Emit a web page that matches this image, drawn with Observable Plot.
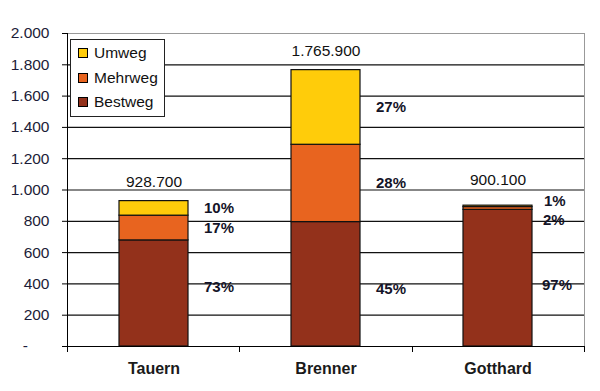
<!DOCTYPE html>
<html>
<head>
<meta charset="utf-8">
<script src="https://cdn.jsdelivr.net/npm/d3@7"></script>
<script src="https://cdn.jsdelivr.net/npm/@observablehq/plot@0.6"></script>
<style>
  html, body { margin: 0; padding: 0; background: #fff; }
  #wrap { position: relative; width: 600px; height: 391px; font-family: "Liberation Sans", Arial, sans-serif; }
  #legend { position: absolute; left: 70px; top: 39px; width: 95px; height: 78px; border: 1px solid #222; background: #fff; box-sizing: border-box; }
  .item { position: absolute; left: 7px; height: 20px; display: flex; align-items: center; font-size: 15.5px; color: #111; }
  .sw { width: 8px; height: 8px; border: 1px solid #000; margin-right: 6px; }
</style>
</head>
<body>
<div id="wrap"></div>
<script>
const categories = ["Tauern", "Brenner", "Gotthard"];
const series = ["Bestweg", "Mehrweg", "Umweg"];
const bestweg = [678, 795, 873];
const mehrweg = [158, 494, 18];
const umweg = [93, 477, 9];
const pctBestweg = ["73%", "45%", "97%"];
const pctMehrweg = ["17%", "28%", "2%"];
const pctUmweg = ["10%", "27%", "1%"];
const totals = [928700, 1765900, 900100];
const yTicks = [0, 200, 400, 600, 800, 1000, 1200, 1400, 1600, 1800, 2000];
const colors = ["#93311b", "#e8641f", "#ffcc0a"];

const values = [bestweg, mehrweg, umweg];
const pcts = [pctBestweg, pctMehrweg, pctUmweg];
const rows = [];
categories.forEach((c, i) => {
  series.forEach((s, j) => {
    rows.push({cat: c, series: s, value: values[j][i], label: pcts[j][i]});
  });
});
const totalRows = categories.map((c, i) => ({cat: c, total: totals[i], y: totals[i] / 1000}));

const loc = d3.formatLocale({decimal: ",", thousands: ".", grouping: [3], currency: ["", "€"]});
const fmt = loc.format(",");

const frameLines = (index, scales, vals, dims) => {
  const {marginLeft, marginRight, marginTop, marginBottom, width, height} = dims;
  const x0 = marginLeft, x1 = width - marginRight, yb = height - marginBottom;
  const g = d3.create("svg:g").attr("shape-rendering", "crispEdges");
  g.append("line").attr("x1", x1).attr("x2", x1).attr("y1", marginTop).attr("y2", yb).attr("stroke", "#999");
  g.append("line").attr("x1", x0).attr("x2", x0).attr("y1", marginTop).attr("y2", yb + 6).attr("stroke", "#000");
  for (let k = 1; k <= categories.length; k++) {
    const xx = Math.round(x0 + k * (x1 - x0) / categories.length);
    g.append("line").attr("x1", xx).attr("x2", xx).attr("y1", yb).attr("y2", yb + 6).attr("stroke", "#000");
  }
  return g.node();
};

const sel = (c, s) => rows.filter(d => d.cat === c && d.series === s);
const pctStyle = {fontSize: 15, fontWeight: "bold", fill: "#141428", textAnchor: "start"};
const stackText = (data, dx, dy) => Plot.text(data, Plot.stackY({x: "cat", y: "value", z: "series", text: "label", dx, dy, ...pctStyle}));
const stackBase = rows.filter(d => d.cat !== "Gotthard" && d.series !== "Bestweg");

const chart = Plot.plot({
  width: 600,
  height: 391,
  marginLeft: 67,
  marginRight: 16,
  marginTop: 33,
  marginBottom: 45,
  style: {fontFamily: "Liberation Sans, Arial, sans-serif", background: "#fff", overflow: "visible"},
  x: {domain: categories, paddingInner: 0.6, paddingOuter: 0.3, label: null},
  y: {domain: [0, 2000], label: null},
  color: {domain: series, range: colors},
  marks: [
    Plot.ruleY(yTicks.filter(d => d > 0 && d < 2000), {stroke: "#111", strokeWidth: 1.2}),
    Plot.ruleY([2000], {stroke: "#999"}),
    Plot.barY(rows, {x: "cat", y: "value", fill: "series", stroke: "#111", strokeWidth: 1.2}),
    Plot.ruleY([0], {stroke: "#000", strokeWidth: 1.2}),
    frameLines,
    Plot.axisY({ticks: yTicks, tickSize: 5, tickPadding: 13, fontSize: 15.5, fill: "#1c1c38",
      tickFormat: d => d === 0 ? "-" + "\u00a0".repeat(5) : fmt(d)}),
    Plot.axisX({tickSize: 0, tickPadding: 16, fontSize: 16, fontWeight: "bold", fill: "#1a1a1a"}),
    Plot.text(rows.filter(d => d.cat !== "Gotthard"), Plot.stackY({x: "cat", y: "value", z: "series", text: d => d.series === "Bestweg" ? "" : d.label, dx: 50, ...pctStyle})),
    Plot.text(sel("Tauern", "Bestweg"), Plot.stackY({x: "cat", y: "value", text: "label", dx: 50, dy: -6, ...pctStyle})),
    Plot.text(sel("Brenner", "Bestweg"), Plot.stackY({x: "cat", y: "value", text: "label", dx: 50, dy: 5, ...pctStyle})),
    Plot.text(sel("Gotthard", "Bestweg"), Plot.stackY({x: "cat", y: "value", text: "label", dx: 44, dy: 7, ...pctStyle})),
    Plot.text(sel("Gotthard", "Mehrweg"), {x: "cat", y: () => bestweg[2], text: "label", dx: 45, dy: 10, ...pctStyle}),
    Plot.text(sel("Gotthard", "Umweg"), {x: "cat", y: () => bestweg[2] + mehrweg[2] + umweg[2], text: "label", dx: 46, dy: -4, ...pctStyle}),
    Plot.text(totalRows.filter(d => d.cat !== "Gotthard"), {x: "cat", y: "y", text: d => fmt(d.total), lineAnchor: "bottom", dy: -14, fontSize: 15.5, fill: "#111"}),
    Plot.text(totalRows.filter(d => d.cat === "Gotthard"), {x: "cat", y: "y", text: d => fmt(d.total), lineAnchor: "bottom", dy: -21, fontSize: 15.5, fill: "#111"})
  ]
});

const wrap = document.getElementById("wrap");
wrap.appendChild(chart);

const legend = document.createElement("div");
legend.id = "legend";
const legendOrder = ["Umweg", "Mehrweg", "Bestweg"];
legendOrder.forEach((s, i) => {
  const it = document.createElement("div");
  it.className = "item";
  it.style.top = (3 + i * 24.5) + "px";
  const sw = document.createElement("span");
  sw.className = "sw";
  sw.style.background = colors[series.indexOf(s)];
  const tx = document.createElement("span");
  tx.textContent = s;
  it.appendChild(sw);
  it.appendChild(tx);
  legend.appendChild(it);
});
wrap.appendChild(legend);
</script>
</body>
</html>
